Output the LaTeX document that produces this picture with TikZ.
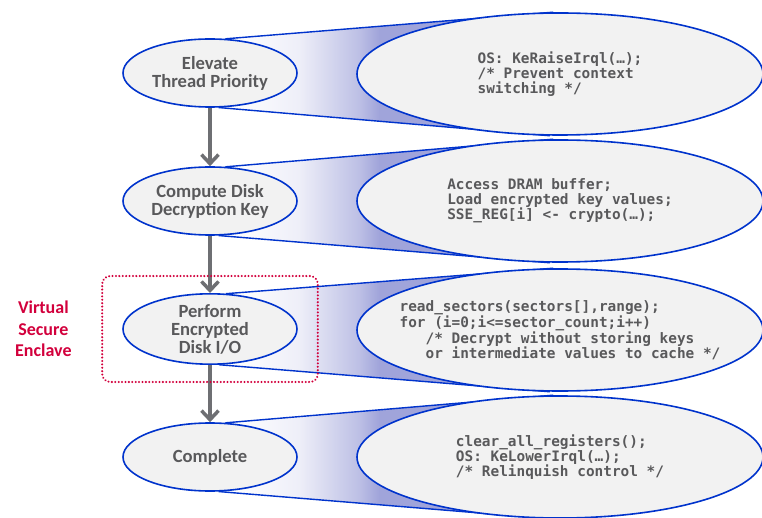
\documentclass[tikz,border=0pt]{standalone}
\usepackage{fontspec}
\setmainfont{Carlito}
\newfontfamily\codefont{DejaVu Sans Mono}
\usetikzlibrary{shapes.geometric,positioning,fit,arrows.meta,backgrounds}
\usepackage{xcolor}
\definecolor{ellblue}{RGB}{0,51,204}
\definecolor{ellfill}{RGB}{242,242,242}
\definecolor{funnelblue}{RGB}{160,164,218}
\definecolor{labelgray}{RGB}{89,89,91}
\definecolor{arrowgray}{RGB}{110,111,115}
\definecolor{enclavered}{RGB}{210,0,60}
\pgfdeclarehorizontalshading{funnel}{100bp}{color(0bp)=(white); color(27bp)=(white); color(37bp)=(funnelblue!18!white); color(46bp)=(funnelblue!70!white); color(49bp)=(funnelblue); color(100bp)=(funnelblue)}
\tikzset{
  flow/.style={-{Straight Barb[length=9pt,width=17pt]}, draw=arrowgray, line width=3.5pt},
  funnelshape/.style={draw=ellblue, line width=1.4pt, shading=funnel},
}

\begin{document}
\begin{tikzpicture}[x=1pt,y=-1pt,
            task/.style={ellipse,draw=ellblue,fill=ellfill,line width=1.6pt,minimum width=174pt,minimum height=68pt,inner sep=0pt,align=center,text=labelgray,font=\bfseries\fontsize{18.6}{18}\selectfont},
            detail/.style={ellipse,draw=ellblue,fill=ellfill,line width=1.6pt,minimum width=406pt,minimum height=122pt,inner sep=0pt},
            code/.style={align=left,inner sep=0pt,text=labelgray,font=\codefont\bfseries\fontsize{14.4}{15}\selectfont},
            enclave/.style={draw=enclavered,rounded corners=8pt,line width=2.2pt,dash pattern=on 0.1pt off 3.3pt,line cap=round,inner xsep=20pt,inner ysep=17pt},
            enclavelabel/.style={align=center,text=enclavered,font=\bfseries\fontsize{18}{21.5}\selectfont}]
            \useasboundingbox (0,0) rectangle (762,518);

            \node[task] (task1) at (210,73) {Elevate\\Thread Priority};
            \node[detail] (detail1) at (560,74) {};
            \node[code] (code1) at (detail1) {OS: KeRaiseIrql(…);\\/* Prevent context\\switching */};

            \node[task] (task2) at (210,201) {Compute Disk\\Decryption Key};
            \node[detail] (detail2) at (560,201) {};
            \node[code] (code2) at (detail2) {Access DRAM buffer;\\Load encrypted key values;\\SSE\_REG[i] <- crypto(…);};

            \node[task] (task3) at (210,329) {Perform\\Encrypted\\Disk I/O};
            \node[detail] (detail3) at (560,330) {};
            \node[code] (code3) at (detail3) {read\_sectors(sectors[],range);\\for (i=0;i<=sector\_count;i++)\\\phantom{xxx}/* Decrypt without storing keys\\\phantom{xxx}or intermediate values to cache */};

            \node[task] (task4) at (210,457) {Complete};
            \node[detail] (detail4) at (560,457) {};
            \node[code] (code4) at (detail4) {clear\_all\_registers();\\OS: KeLowerIrql(…);\\/* Relinquish control */};

            % funnels behind the ellipses
            \begin{scope}[on background layer]
              \foreach \i in {1,...,4}
                \shade[funnelshape] (task\i.65) -- (detail\i.97) -- (detail\i.-100) -- (task\i.-75) -- cycle;
            \end{scope}

            \draw [flow] (task1) -- (task2);
            \draw [flow] (task2) -- (task3);
            \draw [flow] (task3) -- (task4);

            \node[enclave, fit=(task3)] (enclave) {};
            \node[enclavelabel, left=26pt of enclave] (vse) {Virtual\\Secure\\Enclave};
\end{tikzpicture}
\end{document}
